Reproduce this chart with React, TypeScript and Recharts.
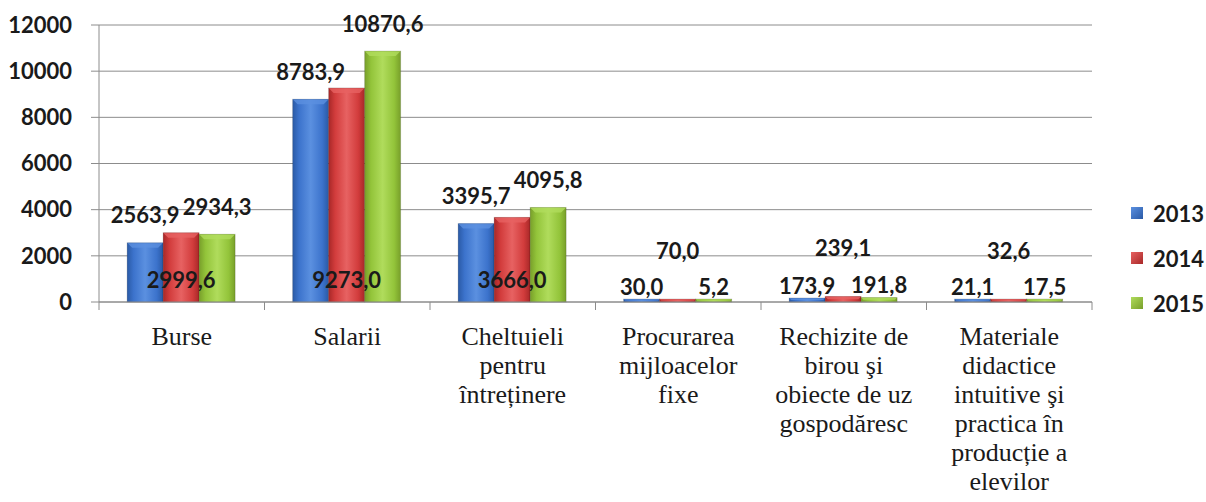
import React from 'react';
import { BarChart, Bar, XAxis, YAxis, CartesianGrid, LabelList } from 'recharts';

const categories = [
    'Burse',
    'Salarii',
    'Cheltuieli\npentru\nîntreținere',
    'Procurarea\nmijloacelor\nfixe',
    'Rechizite de\nbirou şi\nobiecte de uz\ngospodăresc',
    'Materiale\ndidactice\nintuitive şi\npractica în\nproducție a\nelevilor',
];
const values2013 = [2563.9, 8783.9, 3395.7, 30.0, 173.9, 21.1];
const values2014 = [2999.6, 9273.0, 3666.0, 70.0, 239.1, 32.6];
const values2015 = [2934.3, 10870.6, 4095.8, 5.2, 191.8, 17.5];
const seriesNames = ['2013', '2014', '2015'];
const yTicks = [0, 2000, 4000, 6000, 8000, 10000, 12000];

const data = categories.map((name, i) => ({
    name,
    y2013: values2013[i],
    y2014: values2014[i],
    y2015: values2015[i],
}));

const colors = [
    { id: 'blue', dark: '#2a5aa6', base: '#3c73cc', light: '#5b90e0' }, //2013
    { id: 'red', dark: '#a82828', base: '#d23c3c', light: '#e76262' }, //2014
    { id: 'green', dark: '#789f2a', base: '#93c43a', light: '#b0dc5c' }, //2015
];

const labelFont = 'Lato, "Open Sans", sans-serif';
const serifFont = '"Liberation Serif", "DejaVu Serif", serif';
const fmt = (v: number) => v.toFixed(1).replace('.', ',');

function BevelBar(props: any) {
    const { x, y, width, height, gradId, lightColor } = props;
    if (!height || height <= 0) return null;
    const b = Math.min(5, height / 2);
    return (
        <g>
            <rect x={x} y={y} width={width} height={height} fill={`url(#${gradId})`} />
            <polygon
                points={`${x},${y} ${x + width},${y} ${x + width - b},${y + b} ${x + b},${y + b}`}
                fill={lightColor}
                opacity={0.8}
            />
            <rect x={x} y={y} width={width} height={height} fill="none" stroke="rgba(0,0,0,0.15)" strokeWidth={1} />
        </g>
    );
}

// labels above the bar, closer for tiny bars
function TopLabel(props: any) {
    const { x, y, width, height, value } = props;
    const off = height > 20 ? 25 : 10;
    return (
        <text x={x + width / 2} y={y - off} textAnchor="middle" dominantBaseline="middle"
            style={{ fontFamily: labelFont, fontWeight: 'bold', fontSize: 22 }} fill="#1a1a1a">
            {fmt(value)}
        </text>
    );
}

// 2014 labels sit at the foot of big bars, high above small ones
function MidLabel(props: any) {
    const { x, y, width, height, value } = props;
    const ty = height > 50 ? y + height - 20 : y - 46;
    return (
        <text x={x + width / 2} y={ty} textAnchor="middle" dominantBaseline="middle"
            style={{ fontFamily: labelFont, fontWeight: 'bold', fontSize: 22 }} fill="#1a1a1a">
            {fmt(value)}
        </text>
    );
}

function CategoryTick(props: any) {
    const { x, y, payload, index, width, visibleTicksCount } = props;
    const lines = String(payload.value).split('\n');
    const step = width / (visibleTicksCount || categories.length);
    return (
        <g>
            <line x1={x - step / 2} x2={x - step / 2} y1={y} y2={y + 8} stroke="#8c8c8c" />
            {index === categories.length - 1 && (
                <line x1={x + step / 2} x2={x + step / 2} y1={y} y2={y + 8} stroke="#8c8c8c" />
            )}
            <text x={x} y={y + 43} textAnchor="middle" fill="#1a1a1a"
                style={{ fontFamily: serifFont, fontSize: 26, fontWeight: 'normal' }}>
                {lines.map((l, i) => (
                    <tspan key={i} x={x} dy={i === 0 ? 0 : 29}>{l}</tspan>
                ))}
            </text>
        </g>
    );
}

export default function App() {
    const keys = ['y2013', 'y2014', 'y2015'];
    return (
        <div style={{ position: 'absolute', left: 0, top: 0, width: 1206, height: 502, background: '#fff' }}>
            <BarChart
                width={1206}
                height={502}
                data={data}
                margin={{ top: 25, right: 114, left: 0, bottom: 10 }}
                barCategoryGap="17%"
                barGap={0}
            >
                <defs>
                    {colors.map(c => (
                        <linearGradient key={c.id} id={`grad-${c.id}`} x1="0" y1="0" x2="1" y2="0">
                            <stop offset="0%" stopColor={c.dark} />
                            <stop offset="18%" stopColor={c.base} />
                            <stop offset="50%" stopColor={c.light} />
                            <stop offset="82%" stopColor={c.base} />
                            <stop offset="100%" stopColor={c.dark} />
                        </linearGradient>
                    ))}
                </defs>
                <CartesianGrid vertical={false} stroke="#8c8c8c" />
                <XAxis
                    dataKey="name"
                    interval={0}
                    height={190}
                    tickLine={false}
                    tickSize={0}
                    tickMargin={0}
                    axisLine={{ stroke: '#8c8c8c' }}
                    tick={(p: any) => <CategoryTick {...p} />}
                />
                <YAxis
                    width={99}
                    domain={[0, 12000]}
                    ticks={yTicks}
                    tickSize={8}
                    tickMargin={19}
                    axisLine={{ stroke: '#8c8c8c' }}
                    tickLine={{ stroke: '#8c8c8c' }}
                    tick={{ fontFamily: labelFont, fontWeight: 'bold', fontSize: 22, fill: '#1a1a1a' }}
                />
                {keys.map((k, i) => (
                    <Bar
                        key={k}
                        dataKey={k}
                        name={seriesNames[i]}
                        fill={colors[i].base}
                        minPointSize={3}
                        isAnimationActive={false}
                        shape={(p: any) => <BevelBar {...p} gradId={`grad-${colors[i].id}`} lightColor={colors[i].light} />}
                    >
                        <LabelList dataKey={k} content={i === 1 ? <MidLabel /> : <TopLabel />} />
                    </Bar>
                ))}
            </BarChart>
            {/* legend */}
            <div style={{ position: 'absolute', left: 1131, top: 199, fontFamily: labelFont, fontWeight: 'bold', fontSize: 22, color: '#1a1a1a' }}>
                {seriesNames.map((s, i) => (
                    <div key={s} style={{ display: 'flex', alignItems: 'center', height: 28, marginBottom: 17 }}>
                        <span style={{
                            display: 'inline-block', width: 12, height: 12, marginRight: 10,
                            background: `linear-gradient(135deg, ${colors[i].light}, ${colors[i].dark})`,
                        }} />
                        {s}
                    </div>
                ))}
            </div>
        </div>
    );
}
